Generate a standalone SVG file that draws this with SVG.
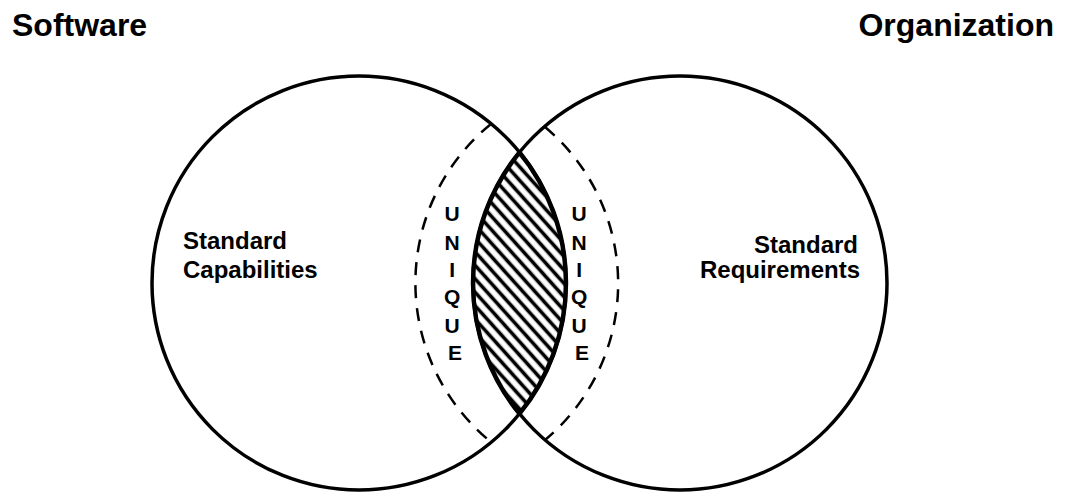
<svg xmlns="http://www.w3.org/2000/svg" width="1072" height="497" viewBox="0 0 1072 497">
  <style>
    .lbl { font-family: "Liberation Sans", Arial, sans-serif; font-weight: bold; fill: #000; }
    .title { font-size: 32px; }
    .body { font-size: 24px; }
    .uniq { font-size: 21px; text-anchor: middle; }
    .circle { fill: none; stroke: #000; stroke-width: 3.5; }
    .dash { fill: none; stroke: #000; stroke-width: 2.5; stroke-dasharray: 13 10; }
  </style>
  <defs>
    <pattern id="hatch" patternUnits="userSpaceOnUse" width="9" height="9" patternTransform="rotate(48)">
      <rect width="9" height="9" fill="#fff"/>
      <line x1="0" y1="4.5" x2="9" y2="4.5" stroke="#000" stroke-width="3.6"/>
    </pattern>
  </defs>
  <rect width="1072" height="497" fill="#fff"/>

  <g id="software-label">
    <text class="lbl title" x="12" y="36">Software</text>
  </g>
  <g id="organization-label">
    <text class="lbl title" x="1054" y="36" text-anchor="end">Organization</text>
  </g>

  <g id="software-circle">
    <circle class="circle" cx="359" cy="283" r="207"/>
    <text class="lbl body" x="183" y="249">Standard</text>
    <text class="lbl body" x="183" y="278">Capabilities</text>
  </g>

  <g id="organization-circle">
    <circle class="circle" cx="680" cy="283" r="207"/>
    <text class="lbl body" x="858" y="253" text-anchor="end">Standard</text>
    <text class="lbl body" x="860" y="278" text-anchor="end">Requirements</text>
  </g>

  <g id="overlap">
    <path d="M519.5,152.3 A207,207 0 0 0 519.5,413.7 A207,207 0 0 0 519.5,152.3 Z" fill="url(#hatch)" stroke="#000" stroke-width="4.5" stroke-linejoin="round"/>
  </g>

  <g id="unique-left">
    <path class="dash" d="M491,124 A205,205 0 0 0 491,442"/>
    <text class="lbl uniq">
      <tspan x="455" y="221">U</tspan>
      <tspan x="455" y="250">N</tspan>
      <tspan x="455" y="277">I</tspan>
      <tspan x="455" y="304">Q</tspan>
      <tspan x="455" y="333">U</tspan>
      <tspan x="455" y="360">E</tspan>
    </text>
  </g>

  <g id="unique-right">
    <path class="dash" d="M545,127 A204,204 0 0 1 545,440"/>
    <text class="lbl uniq">
      <tspan x="582" y="221">U</tspan>
      <tspan x="582" y="250">N</tspan>
      <tspan x="582" y="277">I</tspan>
      <tspan x="582" y="304">Q</tspan>
      <tspan x="582" y="333">U</tspan>
      <tspan x="582" y="360">E</tspan>
    </text>
  </g>

  <g id="connectors"></g>
</svg>
